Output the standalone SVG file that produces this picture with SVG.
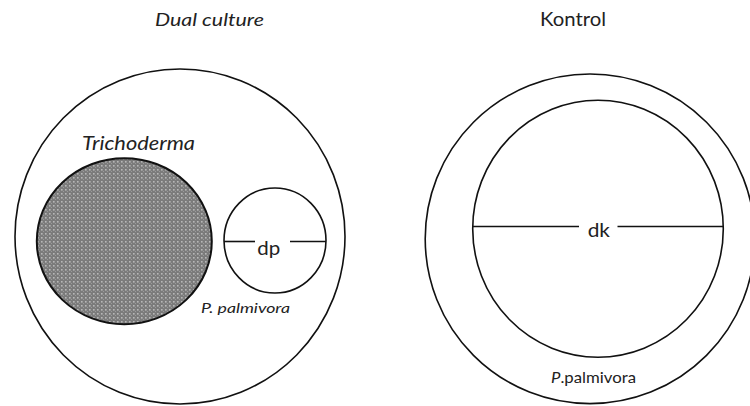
<svg xmlns="http://www.w3.org/2000/svg" width="750" height="406" viewBox="0 0 750 406">
<style>
.c{fill:none;stroke:#111;stroke-width:1.6}
.ln{stroke:#111;stroke-width:1.6}
.t{font-family:Lato,"Liberation Sans",sans-serif;fill:#222}
.i{font-style:italic}
</style>
<defs>
<pattern id="dots" width="4" height="4" patternUnits="userSpaceOnUse">
<rect width="4" height="4" fill="#7b7b7b"/>
<rect x="1" y="1" width="1.6" height="1.6" fill="#b8b8b8"/>
<rect x="3" y="3" width="1" height="1" fill="#9a9a9a"/>
</pattern>
</defs>
<rect width="750" height="406" fill="#fff"/>
<g id="dual">
<text class="t i" x="155" y="26" font-size="18" textLength="109" lengthAdjust="spacingAndGlyphs">Dual culture</text>
<ellipse class="c" cx="180" cy="236.5" rx="165" ry="167.5"/>
</g>
<g id="trichoderma">
<ellipse cx="124.3" cy="241.2" rx="87.5" ry="83" fill="url(#dots)" stroke="#111" stroke-width="2"/>
<text class="t i" x="82" y="149.5" font-size="18.5" textLength="113" lengthAdjust="spacingAndGlyphs">Trichoderma</text>
</g>
<g id="palmivora-dual">
<ellipse class="c" cx="275" cy="240.5" rx="51" ry="52.5"/>
<text class="t i" x="201" y="313" font-size="14" textLength="89" lengthAdjust="spacingAndGlyphs">P. palmivora</text>
</g>
<g id="kontrol">
<text class="t" x="540" y="26" font-size="20" textLength="66" lengthAdjust="spacingAndGlyphs">Kontrol</text>
<circle class="c" cx="590" cy="238.8" r="164.8"/>
</g>
<g id="palmivora-kontrol">
<ellipse class="c" cx="598" cy="228.7" rx="125.3" ry="128.5"/>
<text class="t" x="551" y="382.5" font-size="15" textLength="85" lengthAdjust="spacingAndGlyphs"><tspan class="i">P</tspan>.palmivora</text>
</g>
<g id="connectors">
<line class="ln" x1="224" y1="241.5" x2="255" y2="241.5"/>
<line class="ln" x1="290" y1="241.5" x2="326" y2="241.5"/>
<line class="ln" x1="472.7" y1="226.5" x2="579" y2="226.5"/>
<line class="ln" x1="617.5" y1="226.5" x2="723.3" y2="226.5"/>
</g>
<g id="labels">
<text class="t" x="257.3" y="255" font-size="20" textLength="23" lengthAdjust="spacingAndGlyphs">dp</text>
<text class="t" x="587.7" y="236.7" font-size="20" textLength="22.3" lengthAdjust="spacingAndGlyphs">dk</text>
</g>
</svg>
